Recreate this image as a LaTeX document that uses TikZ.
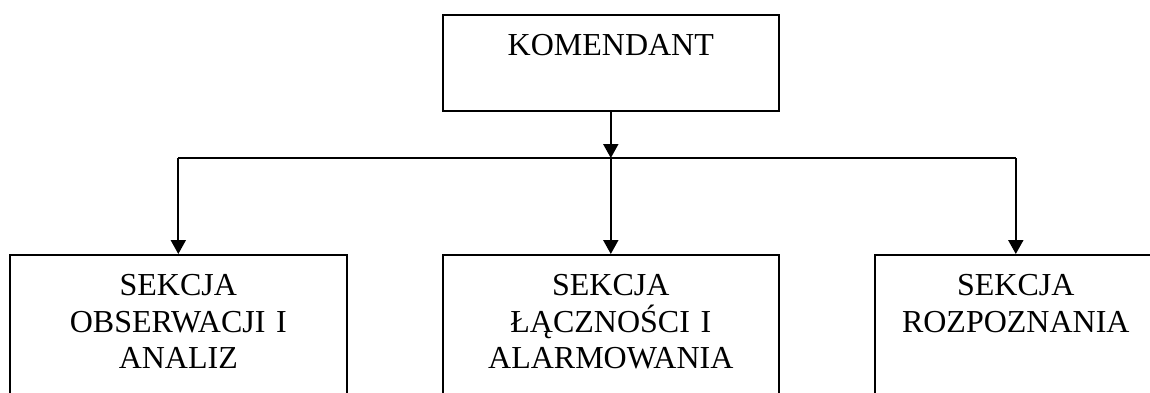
\documentclass[tikz,border=0pt]{standalone}
\usepackage{fontspec}
\setmainfont{Liberation Serif}
\usetikzlibrary{arrows.meta}
\tikzset{
  unit/.style={draw, line width=0.8pt, anchor=north west, align=center,
    inner xsep=2pt, inner ysep=10pt, text height=10.5pt,
    font=\fontsize{16}{18.25}\selectfont},
  wire/.style={line width=0.8pt},
  feed/.style={line width=1pt, -{Triangle[length=7pt,width=7.5pt]}}
}
\begin{document}
\begin{tikzpicture}[x=0.5pt,y=-0.5pt]
\clip (0,0) rectangle (1150,392);
\node[unit, text width=164pt, text depth=17.5pt] (kom) at (442,14) {KOMENDANT};
\node[unit, text width=164.5pt, text depth=80pt] (obs) at (9,254) {SEKCJA\\OBSERWACJI I\\ANALIZ};
\node[unit, text width=164pt, text depth=80pt] (lacz) at (442,254) {SEKCJA\\ŁĄCZNOŚCI I\\ALARMOWANIA};
\node[unit, text width=137pt, text depth=80pt] (rozp) at (874,254) {SEKCJA\\ROZPOZNANIA};
\coordinate (bus) at (610,158);
\draw[wire] (obs.north |- bus) -- (rozp.north |- bus);
\draw[feed] (kom.south) -- (kom.south |- bus);
\foreach \n in {obs,lacz,rozp}
  \draw[feed] (\n.north |- bus) -- (\n.north);
\end{tikzpicture}
\end{document}
